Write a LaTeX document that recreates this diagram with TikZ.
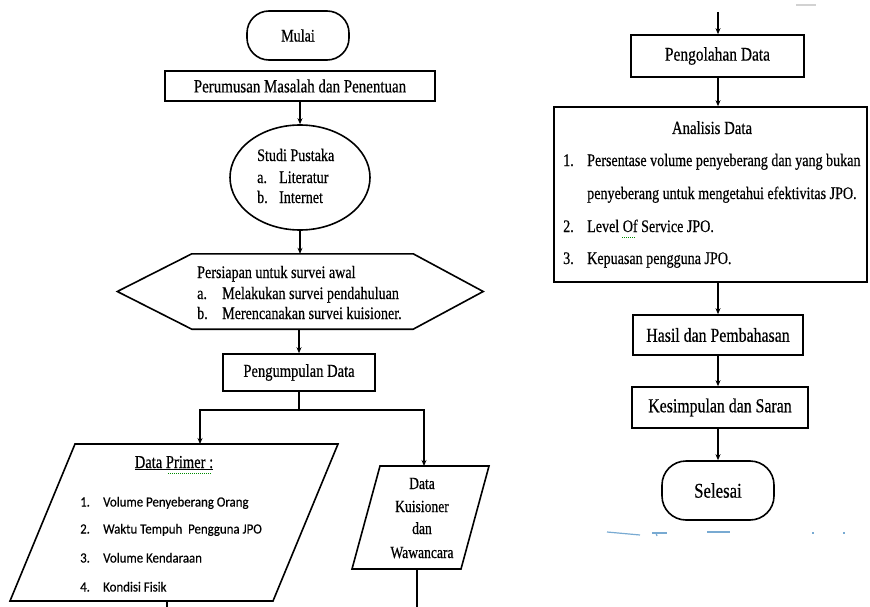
\documentclass[tikz,border=0pt]{standalone}
\usepackage{fontspec}
\setmainfont{Liberation Serif}[FakeStretch=0.8, RawFeature={embolden=0.5}]
\newfontfamily\calib{Carlito}[FakeStretch=0.92, RawFeature={embolden=0.4}]
\usetikzlibrary{arrows.meta,shapes.geometric}
\newcommand{\myfs}[1]{\fontsize{#1}{#1}\selectfont}
\begin{document}
\begin{tikzpicture}[x=1pt,y=-1pt,
  box/.style={draw, line width=1.6pt, inner sep=0pt, align=center},
  term/.style={box, rounded corners=22pt},
  arr/.style={line width=1.2pt, -{Stealth[length=6pt,width=5pt]}},
  ln/.style={line width=1.2pt},
  shp/.style={line width=1.6pt, line join=miter},
  txt/.style={inner sep=0pt, anchor=base west},
  ctxt/.style={inner sep=0pt, anchor=base},
  artblue/.style={line width=1.2pt, color={rgb,255:red,120;green,170;blue,210}},
  squig/.style={line width=0.8pt, color=green!55!black, dash pattern=on 1pt off 1pt}
]
\useasboundingbox (0,0) rectangle (870,607);

% ---------- left column ----------
\node[term, minimum width=102pt, minimum height=49pt, font=\myfs{17.6}] (mulai) at (298,35.5) {Mulai};
\node[box, minimum width=270pt, minimum height=30pt, font=\myfs{18.7}] (perumusan) at (300,86) {Perumusan Masalah dan Penentuan};

\node[draw, ellipse, line width=1.6pt, minimum width=140pt, minimum height=105pt, inner sep=0pt] (studi) at (300,177.5) {};
\node[txt, font=\myfs{17.6}] (studi1) at (257,161) {Studi Pustaka};
\node[txt, font=\myfs{17.6}] (studi2) at (257,183) {\makebox[22pt][l]{a.}Literatur};
\node[txt, font=\myfs{17.6}] (studi3) at (257,203) {\makebox[22pt][l]{b.}Internet};

\node[minimum width=221pt, minimum height=75pt, inner sep=0pt] (prep) at (302.5,291.5) {};
\draw[shp] (prep.north west) -- (prep.north east) -- ([xshift=70pt]prep.east) -- (prep.south east)
  -- (prep.south west) -- ([xshift=-74.5pt]prep.west) -- cycle;
\node[txt, font=\myfs{17.6}] (prep1) at (197,278) {Persiapan untuk survei awal};
\node[txt, font=\myfs{17.6}] (prep2) at (197,299) {\makebox[25pt][l]{a.}Melakukan survei pendahuluan};
\node[txt, font=\myfs{17.6}] (prep3) at (197,319) {\makebox[25pt][l]{b.}Merencanakan survei kuisioner.};

\node[box, minimum width=152pt, minimum height=37pt, font=\myfs{18.2}] (kumpul) at (299,372.5) {Pengumpulan Data};

% Data Primer parallelogram
\coordinate (dpA) at (75,444);
\coordinate (dpB) at (338,444);
\coordinate (dpC) at (273,601);
\coordinate (dpD) at (10,601);
\draw[shp] (dpA) -- (dpB) -- (dpC) -- (dpD) -- cycle;
\coordinate (dpIn) at (200,444);
\coordinate (dpOut) at (167,601);
\coordinate (dpEnd) at (167,607);
\node[ctxt, font=\myfs{18.2}] (dptitle) at (174,468) {\underline{Data Primer :}};
\draw[squig] (168,473) -- (212,473);
\node[txt, font=\calib\myfs{14}] (dp1) at (80,506.5) {\makebox[23pt][l]{1.}Volume Penyeberang Orang};
\node[txt, font=\calib\myfs{14}] (dp2) at (80,533.5) {\makebox[23pt][l]{2.}Waktu Tempuh\ \ Pengguna JPO};
\node[txt, font=\calib\myfs{14}] (dp3) at (80,562.5) {\makebox[23pt][l]{3.}Volume Kendaraan};
\node[txt, font=\calib\myfs{14}] (dp4) at (80,591.5) {\makebox[23pt][l]{4.}Kondisi Fisik};

% Data Kuisioner parallelogram
\coordinate (dkA) at (380,466);
\coordinate (dkB) at (489,466);
\coordinate (dkC) at (461,569);
\coordinate (dkD) at (352,569);
\draw[shp] (dkA) -- (dkB) -- (dkC) -- (dkD) -- cycle;
\coordinate (dkIn) at (424,466);
\coordinate (dkOut) at (417,569);
\coordinate (dkEnd) at (417,607);
\node[ctxt, font=\myfs{17}] (dk1) at (422,489) {Data};
\node[ctxt, font=\myfs{17}] (dk2) at (422,512) {Kuisioner};
\node[ctxt, font=\myfs{17}] (dk3) at (422,534) {dan};
\node[ctxt, font=\myfs{17}] (dk4) at (422,558) {Wawancara};

% connectors left
\draw[arr] (perumusan.south) -- (studi.north);
\draw[arr] (studi.south) -- (studi.south |- prep.north);
\draw[arr] (kumpul.north |- prep.south) -- (kumpul.north);
\coordinate (br) at (299,410);
\coordinate (brL) at (200,410);
\coordinate (brR) at (424,410);
\draw[ln] (kumpul.south) -- (br);
\draw[arr] (br) -- (brL) -- (dpIn);
\draw[arr] (br) -- (brR) -- (dkIn);
\draw[ln] (dpOut) -- (dpEnd);
\draw[ln] (dkOut) -- (dkEnd);

% ---------- right column ----------
\coordinate (topin) at (718,12);
\node[box, minimum width=173pt, minimum height=42pt, font=\myfs{19.3}] (olah) at (717.5,56) {Pengolahan Data};
\node[box, minimum width=313pt, minimum height=175pt] (analisis) at (710.5,194.5) {};
\node[ctxt, font=\myfs{18.5}] (an0) at (712,134) {Analisis Data};
\node[txt, font=\myfs{17.6}] (an1) at (563,166) {\makebox[24pt][l]{1.}Persentase volume penyeberang dan yang bukan};
\node[txt, font=\myfs{17.6}] (an2) at (587,199) {penyeberang untuk mengetahui efektivitas JPO.};
\node[txt, font=\myfs{17.6}] (an3) at (563,232) {\makebox[24pt][l]{2.}Level Of Service JPO.};
\node[txt, font=\myfs{17.6}] (an4) at (563,264) {\makebox[24pt][l]{3.}Kepuasan pengguna JPO.};
\draw[squig] (622,237) -- (636,237);
\node[box, minimum width=170pt, minimum height=40pt, font=\myfs{19.8}] (hasil) at (718,335) {Hasil dan Pembahasan};
\node[box, minimum width=176pt, minimum height=41pt, font=\myfs{19.8}] (kesimpulan) at (720,407.5) {Kesimpulan dan Saran};
\node[term, minimum width=112pt, minimum height=59pt, rounded corners=24pt, font=\myfs{21}] (selesai) at (718,490.5) {Selesai};

\draw[arr] (topin) -- (topin |- olah.north);
\draw[arr] (olah.south -| topin) -- (topin |- analisis.north);
\draw[arr] (hasil.north |- analisis.south) -- (hasil.north);
\draw[arr] (hasil.south) -- (hasil.south |- kesimpulan.north);
\draw[arr] (selesai.north |- kesimpulan.south) -- (selesai.north);

% scan artefacts
\draw[line width=1.5pt, gray!35] (796,5) -- (816,5);
\draw[artblue] (607,532) -- (640,535);
\draw[artblue] (652,533) -- (667,533);
\draw[artblue] (656,533) -- (657,536);
\draw[artblue] (707,532) -- (730,532);
\draw[artblue] (812,533) -- (814,533);
\draw[artblue] (843,533) -- (845,533);
\end{tikzpicture}
\end{document}
